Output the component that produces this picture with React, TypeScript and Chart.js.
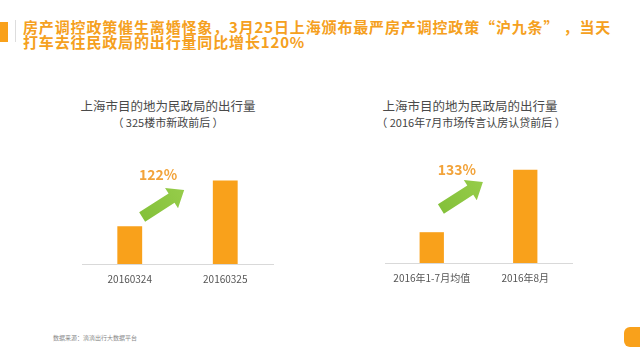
import React, { useEffect, useRef } from "react";
import { Chart, registerables } from "chart.js";

Chart.register(...registerables);

const pageTitle = [
  "房产调控政策催生离婚怪象，3月25日上海颁布最严房产调控政策“沪九条” ，当天",
  "打车去往民政局的出行量同比增长120%",
];
const chartTitle = "上海市目的地为民政局的出行量";
const subtitles = ["（ 325楼市新政前后 ）", "（ 2016年7月市场传言认房认贷前后 ）"];
const categoriesA = ["20160324", "20160325"];
const valuesA = [100, 221];
const categoriesB = ["2016年1-7月均值", "2016年8月"];
const valuesB = [100, 303];
const growthLabels = ["122%", "133%"];
const sourceText = "数据来源：滴滴出行大数据平台";

const FONT = "'Noto Sans CJK SC', 'Noto Sans', sans-serif";
const ORANGE = "#F9A11B";

const arrowPlugin = {
  id: "growthArrow",
  afterDatasetsDraw(chart: any, _args: any, opts: any) {
    const meta = chart.getDatasetMeta(0);
    const b0: any = meta.data[0];
    const base = b0.base;
    const ctx = chart.ctx;
    const tx = b0.x + b0.width / 2 + (opts.tailDx || 0);
    const ty = base - opts.tailRise;
    const hx = tx + 42;
    const hy = ty - 27;
    const ang = Math.atan2(hy - ty, hx - tx);
    const len = Math.hypot(hx - tx, hy - ty);
    ctx.save();
    ctx.translate(tx, ty);
    ctx.rotate(ang);
    const sw = 5.5, hw = 12, hl = 15;
    const grad = ctx.createLinearGradient(0, 0, len, 0);
    grad.addColorStop(0, "#84C13A");
    grad.addColorStop(1, "#96CC4A");
    ctx.fillStyle = grad;
    ctx.beginPath();
    ctx.moveTo(0, -sw);
    ctx.lineTo(len - hl, -sw);
    ctx.lineTo(len - hl, -hw);
    ctx.lineTo(len, 0);
    ctx.lineTo(len - hl, hw);
    ctx.lineTo(len - hl, sw);
    ctx.lineTo(0, sw);
    ctx.closePath();
    ctx.fill();
    ctx.restore();
    ctx.save();
    ctx.fillStyle = "#F2A33A";
    ctx.font = "bold 14px " + FONT;
    ctx.textAlign = "center";
    ctx.textBaseline = "middle";
    ctx.fillText(opts.label, tx + 16, base - opts.labelRise);
    ctx.restore();
  },
};

function BarChart(props: {
  labels: string[];
  values: number[];
  yMax: number;
  padLeft: number;
  padRight: number;
  padBottom: number;
  label: string;
  tailRise: number;
  tailDx: number;
  labelRise: number;
  style: React.CSSProperties;
}) {
  const ref = useRef<HTMLCanvasElement>(null);
  useEffect(() => {
    const chart = new Chart(ref.current as HTMLCanvasElement, {
      type: "bar",
      data: {
        labels: props.labels,
        datasets: [
          {
            data: props.values,
            backgroundColor: ORANGE,
            barPercentage: 0.26,
            categoryPercentage: 1,
          },
        ],
      },
      options: {
        animation: false,
        responsive: false,
        events: [],
        layout: {
          padding: { left: props.padLeft, right: props.padRight, top: 0, bottom: props.padBottom },
        },
        plugins: {
          legend: { display: false },
          tooltip: { enabled: false },
          growthArrow: {
            label: props.label,
            tailRise: props.tailRise,
            tailDx: props.tailDx,
            labelRise: props.labelRise,
          },
        } as any,
        scales: {
          x: {
            grid: { display: false, drawTicks: false },
            border: { display: true, color: "#D9D9D9", width: 1 },
            ticks: { color: "#555", font: { size: 10, family: FONT }, padding: 9 },
          },
          y: { display: false, min: 0, max: props.yMax },
        },
      },
      plugins: [arrowPlugin],
    });
    return () => chart.destroy();
  }, []);
  return <canvas ref={ref} width={240} height={175} style={props.style} />;
}

export default function App() {
  const titleStyle: React.CSSProperties = {
    position: "absolute",
    fontFamily: FONT,
    color: "#4a4a4a",
    fontSize: 12.5,
    textAlign: "center",
    whiteSpace: "nowrap",
  };
  const subStyle: React.CSSProperties = { ...titleStyle, fontSize: 11, color: "#444" };
  return (
    <div
      style={{
        position: "fixed",
        left: 0,
        top: 0,
        width: 640,
        height: 360,
        background: "#fff",
        overflow: "hidden",
        fontFamily: FONT,
      }}
    >
      <div style={{ position: "absolute", left: 0, top: 22, width: 8, height: 20, background: ORANGE }} />
      <div style={{ position: "absolute", left: 15, top: 20, width: 1, height: 22, background: "#ddd" }} />
      <div
        style={{
          position: "absolute",
          left: 23,
          top: 19,
          color: "#F5A020",
          fontWeight: "bold",
          fontSize: 15,
          letterSpacing: 0.85,
          lineHeight: "15px",
          whiteSpace: "nowrap",
        }}
      >
        {pageTitle.map((t, i) => (
          <div key={i}>{t}</div>
        ))}
      </div>

      <div style={{ ...titleStyle, left: 60, width: 216, top: 96 }}>{chartTitle}</div>
      <div style={{ ...subStyle, left: 60, width: 216, top: 114 }}>{subtitles[0]}</div>
      <div style={{ ...titleStyle, left: 360, width: 220, top: 96 }}>{chartTitle}</div>
      <div style={{ ...subStyle, left: 360, width: 222, top: 114 }}>{subtitles[1]}</div>

      <BarChart
        labels={categoriesA}
        values={valuesA}
        yMax={368}
        padLeft={22}
        padRight={27}
        padBottom={6}
        label={growthLabels[0]}
        tailRise={47}
        tailDx={0}
        labelRise={89}
        style={{ position: "absolute", left: 60, top: 125 }}
      />
      <BarChart
        labels={categoriesB}
        values={valuesB}
        yMax={448}
        padLeft={25}
        padRight={28}
        padBottom={7}
        label={growthLabels[1]}
        tailRise={54}
        tailDx={-3}
        labelRise={93}
        style={{ position: "absolute", left: 360, top: 125 }}
      />

      <div
        style={{
          position: "absolute",
          left: 53,
          top: 333,
          fontSize: 6,
          color: "#888",
          whiteSpace: "nowrap",
        }}
      >
        {sourceText}
      </div>
      <div
        style={{
          position: "absolute",
          left: 624,
          top: 327,
          width: 22,
          height: 20,
          borderRadius: 6,
          background: ORANGE,
        }}
      />
    </div>
  );
}
